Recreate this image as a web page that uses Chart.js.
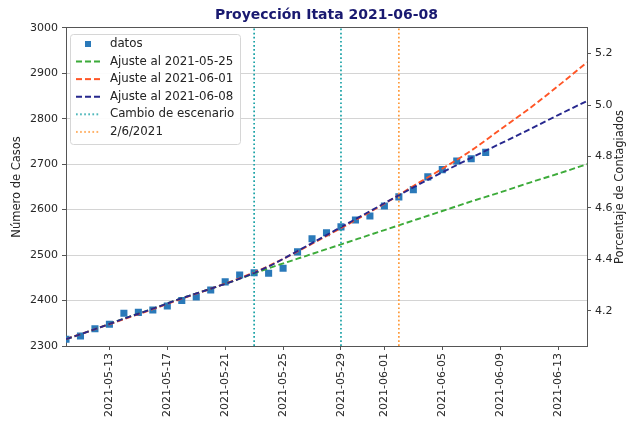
<!DOCTYPE html>
<html>
<head>
<meta charset="utf-8">
<script src="https://cdn.jsdelivr.net/npm/chart.js@4.4.1/dist/chart.umd.min.js"></script>
<style>
  html, body { margin: 0; padding: 0; background: #fff; }
</style>
</head>
<body>
<canvas id="grafico" width="629" height="424"></canvas>
<script>
// Datos observados (casos acumulados)
const fechas = [
  '2021-05-10', '2021-05-11', '2021-05-12', '2021-05-13', '2021-05-14', '2021-05-15',
  '2021-05-16', '2021-05-17', '2021-05-18', '2021-05-19', '2021-05-20', '2021-05-21',
  '2021-05-22', '2021-05-23', '2021-05-24', '2021-05-25', '2021-05-26', '2021-05-27',
  '2021-05-28', '2021-05-29', '2021-05-30', '2021-05-31', '2021-06-01', '2021-06-02',
  '2021-06-03', '2021-06-04', '2021-06-05', '2021-06-06', '2021-06-07', '2021-06-08'
];
const casos = [
  2315, 2322, 2338, 2348, 2372, 2374, 2379, 2388, 2400, 2408,
  2423, 2441, 2456, 2461, 2460, 2471, 2507, 2536, 2549, 2562,
  2577, 2586, 2608, 2628, 2644, 2672, 2688, 2707, 2712, 2726
];

// Curvas de ajuste (leídas cada 2 días)
const fechasAjuste = [
  '2021-05-10', '2021-05-12', '2021-05-14', '2021-05-16', '2021-05-18', '2021-05-20',
  '2021-05-22', '2021-05-24', '2021-05-26', '2021-05-28', '2021-05-30', '2021-06-01',
  '2021-06-03', '2021-06-05', '2021-06-07', '2021-06-09', '2021-06-11', '2021-06-13',
  '2021-06-15'
];
const ajuste0525 = [2315, 2337, 2360, 2382, 2405, 2426, 2448, 2471, 2492, 2513, 2534, 2555, 2576, 2597, 2618, 2638, 2659, 2679, 2700];
const ajuste0601 = [2315, 2337, 2359, 2381, 2404, 2426, 2449, 2476, 2508, 2542, 2577, 2613, 2652, 2690, 2730, 2776, 2822, 2872, 2924];
const ajuste0608 = [2315, 2337, 2360, 2382, 2405, 2426, 2448, 2475, 2509, 2544, 2579, 2614, 2649, 2682, 2714, 2745, 2776, 2808, 2839];

const cambioEscenario = ['2021-05-23', '2021-05-29'];
const fechaCorte = '2021-06-02';

const etiquetasX = [
  '2021-05-13', '2021-05-17', '2021-05-21', '2021-05-25', '2021-05-29',
  '2021-06-01', '2021-06-05', '2021-06-09', '2021-06-13'
];
const ticksPorcentaje = [4.2, 4.4, 4.6, 4.8, 5.0, 5.2];
const limitesCasos = [2300, 3000];
const poblacion = 56600;
const inicio = '2021-05-10';
const fin = '2021-06-15';

const dia = f => (Date.parse(f) - Date.parse(inicio)) / 86400000;
const puntos = (xs, ys) => xs.map((f, i) => ({ x: dia(f), y: ys[i] }));
// lineas verticales separadas por un hueco (null)
const verticales = fs => fs.flatMap((f, i) => {
  const p = [{ x: dia(f), y: limitesCasos[0] }, { x: dia(f), y: limitesCasos[1] }];
  return i ? [{ x: dia(f), y: null }, ...p] : p;
});

Chart.defaults.font.family = "'DejaVu Sans', sans-serif";
Chart.defaults.font.size = 11;
Chart.defaults.color = '#262626';

const AZUL = '#2a79b9';

// simbolos de la leyenda
const cuadrado = document.createElement('canvas');
cuadrado.width = 6; cuadrado.height = 6;
cuadrado.getContext('2d').fillStyle = AZUL;
cuadrado.getContext('2d').fillRect(0, 0, 6, 6);

const simbolo = (color, dash, ancho) => {
  const c = document.createElement('canvas');
  c.width = 24; c.height = 4;
  const g = c.getContext('2d');
  g.strokeStyle = color; g.lineWidth = ancho; g.setLineDash(dash);
  g.beginPath(); g.moveTo(0, 2); g.lineTo(24, 2); g.stroke();
  return c;
};

const lineaAjuste = (label, data, color, order) => ({
  label, data, borderColor: color, backgroundColor: color,
  borderWidth: 1.9, borderDash: [6, 3], pointRadius: 0,
  cubicInterpolationMode: 'monotone', order
});
const lineaVertical = (label, data, color, order) => ({
  label, data, borderColor: color, backgroundColor: color,
  borderWidth: 1.7, borderDash: [1.7, 2.4], pointRadius: 0, order
});

// Marco de la leyenda, posicion del titulo y titulo del eje derecho
const extras = {
  id: 'extras',
  afterLayout(chart) {
    const lg = chart.legend, ca = chart.chartArea, t = chart.titleBlock;
    const dx = ca.left + 0.2 - lg.left, dy = ca.top + 4.4 - lg.top;
    lg.left += dx; lg.right += dx; lg.top += dy; lg.bottom += dy;
    t.left = ca.left; t.right = ca.right; t.width = ca.right - ca.left;
  },
  afterDatasetsDraw(chart) {
    const lg = chart.legend, hb = lg.legendHitBoxes, ctx = chart.ctx;
    const x0 = Math.min(...hb.map(h => h.left)) - 2;
    const y0 = Math.min(...hb.map(h => h.top)) - 4;
    const x1 = Math.max(...hb.map(h => h.left + h.width)) + 5.5;
    const y1 = Math.max(...hb.map(h => h.top + h.height)) + 6;
    ctx.save();
    ctx.beginPath();
    ctx.roundRect(Math.round(x0) + 0.5, Math.round(y0) + 0.5, Math.round(x1 - x0), Math.round(y1 - y0), 3);
    ctx.fillStyle = 'rgba(255,255,255,0.92)';
    ctx.fill();
    ctx.strokeStyle = '#d6d6d6';
    ctx.lineWidth = 1;
    ctx.stroke();
    ctx.restore();
    lg.draw();
  },
  afterDraw(chart) {
    const ca = chart.chartArea, ctx = chart.ctx;
    ctx.save();
    ctx.translate(620, (ca.top + ca.bottom) / 2);
    ctx.rotate(-Math.PI / 2);
    ctx.font = "11.5px 'DejaVu Sans'";
    ctx.fillStyle = '#262626';
    ctx.textAlign = 'center';
    ctx.textBaseline = 'middle';
    ctx.fillText('Porcentaje de Contagiados', 0, 0);
    ctx.restore();
  }
};

new Chart(document.getElementById('grafico'), {
  type: 'line',
  data: {
    datasets: [
      {
        label: 'datos', data: puntos(fechas, casos), showLine: false,
        pointStyle: 'rect', pointRadius: 5, pointHoverRadius: 5,
        backgroundColor: AZUL, borderColor: AZUL, borderWidth: 0, order: 6
      },
      lineaAjuste('Ajuste al 2021-05-25', puntos(fechasAjuste, ajuste0525), '#3dab3a', 5),
      lineaAjuste('Ajuste al 2021-06-01', puntos(fechasAjuste, ajuste0601), '#ff5526', 4),
      lineaAjuste('Ajuste al 2021-06-08', puntos(fechasAjuste, ajuste0608), '#27288e', 3),
      lineaVertical('Cambio de escenario', verticales(cambioEscenario), '#1aa2a6', 2),
      lineaVertical('2/6/2021', verticales([fechaCorte]), '#ff9a3a', 1)
    ]
  },
  options: {
    responsive: false,
    animation: false,
    layout: { padding: 0 },
    plugins: {
      title: {
        display: true,
        text: 'Proyección Itata 2021-06-08',
        color: '#191970',
        font: { size: 14, weight: 'bold' },
        padding: { top: 7, bottom: 4 }
      },
      legend: {
        position: 'chartArea',
        align: 'start',
        labels: {
          usePointStyle: true,
          pointStyleWidth: 32,
          padding: 5.8,
          color: '#262626',
          font: { size: 11.8 },
          sort: (a, b) => a.datasetIndex - b.datasetIndex,
          generateLabels(chart) {
            const items = Chart.defaults.plugins.legend.labels.generateLabels(chart);
            items.forEach(it => {
              const ds = chart.data.datasets[it.datasetIndex];
              it.pointStyle = it.datasetIndex === 0
                ? cuadrado
                : simbolo(ds.borderColor, ds.borderDash, ds.borderWidth);
            });
            return items;
          }
        }
      },
      tooltip: { enabled: false }
    },
    scales: {
      x: {
        type: 'linear', position: 'bottom', min: 0, max: dia(fin),
        afterBuildTicks: ax => { ax.ticks = etiquetasX.map(f => ({ value: dia(f) })); },
        ticks: {
          callback: (v, i) => etiquetasX[i],
          minRotation: 90, maxRotation: 90, autoSkip: false, padding: 3,
          font: { size: 11 }
        },
        grid: { drawOnChartArea: false, tickLength: 4, tickColor: '#555' },
        border: { color: '#555' },
        afterFit: ax => { ax.height = 78; }
      },
      x2: {
        type: 'linear', position: 'top', min: 0, max: dia(fin),
        ticks: { display: false },
        grid: { drawOnChartArea: false, drawTicks: false },
        border: { color: '#555' },
        afterFit: ax => { ax.height = 0; }
      },
      y: {
        type: 'linear', position: 'left', min: limitesCasos[0], max: limitesCasos[1],
        ticks: { stepSize: 100, padding: 4, font: { size: 11 }, callback: v => String(v) },
        grid: { color: '#d4d4d4', tickColor: '#555', tickLength: 4 },
        border: { color: '#555' },
        title: { display: true, text: 'Número de Casos', padding: { top: 10 }, font: { size: 11.5 } },
        afterFit: ax => { ax.width = 66; }
      },
      y1: {
        type: 'linear', position: 'right',
        min: limitesCasos[0] / poblacion * 100, max: limitesCasos[1] / poblacion * 100,
        afterBuildTicks: ax => { ax.ticks = ticksPorcentaje.map(v => ({ value: v })); },
        ticks: { callback: v => v.toFixed(1), padding: 4, font: { size: 11 } },
        grid: { drawOnChartArea: false, tickLength: 4, tickColor: '#555' },
        border: { color: '#555' },
        afterFit: ax => { ax.width = 42; }
      }
    }
  },
  plugins: [extras]
});
</script>
</body>
</html>
